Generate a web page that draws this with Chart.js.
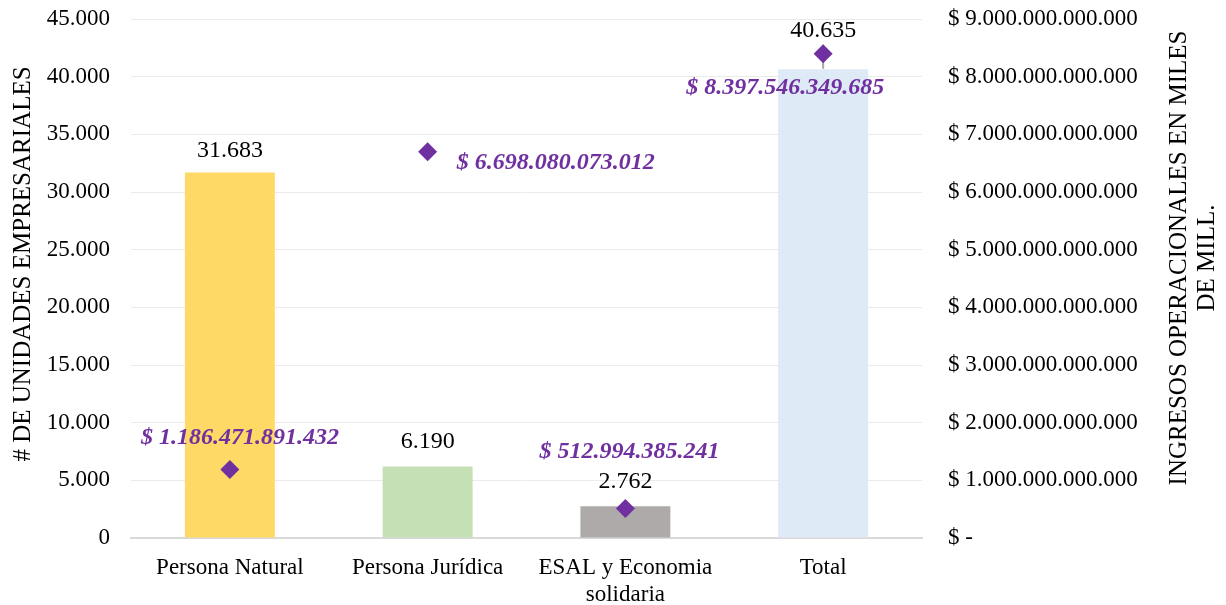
<!DOCTYPE html>
<html>
<head>
<meta charset="utf-8">
<script src="https://cdn.jsdelivr.net/npm/chart.js@4.4.1/dist/chart.umd.min.js"></script>
<style>
  html, body { margin: 0; padding: 0; background: #fff; }
  #wrap { width: 1226px; height: 605px; }
</style>
</head>
<body>
<div id="wrap"><canvas id="myChart" width="1226" height="605"></canvas></div>
<script>
const categories = ["Persona Natural", "Persona Jurídica", ["ESAL y Economia", "solidaria"], "Total"];
const unidades = [31683, 6190, 2762, 40635];
const ingresos = [1186471891432, 6698080073012, 512994385241, 8397546349685];
const leftAxis = { max: 45000, step: 5000 };
const rightAxis = { max: 9000000000000, step: 1000000000000 };
const leftTitle = ["# DE UNIDADES EMPRESARIALES"];
const rightTitle = ["INGRESOS OPERACIONALES EN MILES", "DE MILL."];

const barColors = ["#FFD966", "#C5E0B4", "#AEAAAA", "#DEEAF6"];
const purple = "#7030A0";
const serif = "'Liberation Serif', 'Times New Roman', serif";

// label placement relative to the bar top / diamond
const barLabelLift = [22, 25, 24, 39];
const ingLabelOffset = [
  { dx: 10, dy: -32, align: "center" },
  { dx: 29, dy: 11, align: "left" },
  { dx: 4, dy: -57, align: "center" },
  { dx: -38, dy: 34, align: "center" },
];

function miles(n) {
  return String(Math.round(n)).replace(/\B(?=(\d{3})+(?!\d))/g, ".");
}

// keep the vertical scales from pushing the plot area down
function tightFit(width) {
  return (s) => {
    s.width = width;
    s.paddingTop = 0;
    s.paddingBottom = 0;
  };
}

function drawTitle(ctx, lines, x, y) {
  ctx.save();
  ctx.font = "25px " + serif;
  ctx.fillStyle = "#000";
  ctx.textAlign = "center";
  ctx.textBaseline = "middle";
  ctx.translate(x, y);
  ctx.rotate(-Math.PI / 2);
  lines.forEach((t, i) => ctx.fillText(t, 0, i * 28));
  ctx.restore();
}

const valueLabels = {
  id: "valueLabels",
  beforeDatasetsDraw(chart) {
    // small gray stem behind the Total marker
    const p = chart.getDatasetMeta(1).data[3];
    const ctx = chart.ctx;
    ctx.save();
    ctx.strokeStyle = "#A6A6A6";
    ctx.lineWidth = 2;
    ctx.beginPath();
    ctx.moveTo(p.x, p.y - 9);
    ctx.lineTo(p.x, p.y + 15);
    ctx.stroke();
    ctx.restore();
  },
  afterDatasetsDraw(chart) {
    const ctx = chart.ctx;
    ctx.save();
    ctx.textBaseline = "middle";
    ctx.font = "24px " + serif;
    ctx.fillStyle = "#000";
    ctx.textAlign = "center";
    chart.getDatasetMeta(0).data.forEach((bar, i) => {
      ctx.fillText(miles(unidades[i]), bar.x, bar.y - barLabelLift[i]);
    });
    ctx.font = "italic bold 24px " + serif;
    ctx.fillStyle = purple;
    chart.getDatasetMeta(1).data.forEach((pt, i) => {
      const o = ingLabelOffset[i];
      ctx.textAlign = o.align;
      ctx.fillText("$ " + miles(ingresos[i]), pt.x + o.dx, pt.y + o.dy);
    });
    ctx.restore();
  },
  afterDraw(chart) {
    drawTitle(chart.ctx, leftTitle, 23, 264);
    drawTitle(chart.ctx, rightTitle, 1179, 258);
  },
};

new Chart(document.getElementById("myChart"), {
  type: "bar",
  plugins: [valueLabels],
  data: {
    labels: categories,
    datasets: [
      {
        label: "Unidades",
        data: unidades,
        backgroundColor: barColors,
        yAxisID: "y",
        categoryPercentage: 1,
        barPercentage: 0.455,
        order: 1,
      },
      {
        type: "line",
        label: "Ingresos",
        data: ingresos,
        yAxisID: "y1",
        showLine: false,
        pointStyle: "rectRot",
        pointRadius: 9.5,
        pointBackgroundColor: purple,
        pointBorderColor: purple,
        pointBorderWidth: 0,
        order: 0,
      },
    ],
  },
  options: {
    responsive: false,
    animation: false,
    layout: { padding: { top: 19, left: 0, right: 0, bottom: 0 } },
    plugins: {
      legend: { display: false },
      tooltip: { enabled: false },
    },
    scales: {
      x: {
        grid: { display: false },
        border: { color: "#D9D9D9", width: 2 },
        ticks: {
          color: "#000",
          font: { family: serif, size: 23, lineHeight: 1.15 },
          padding: 9,
          maxRotation: 0,
          autoSkip: false,
        },
        afterFit: (s) => { s.height = 67; },
      },
      y: {
        position: "left",
        min: 0,
        max: leftAxis.max,
        grid: { color: "#EBEBEB", drawTicks: false },
        border: { display: false },
        ticks: {
          stepSize: leftAxis.step,
          color: "#000",
          font: { family: serif, size: 23 },
          padding: 21,
          callback: (v) => miles(v),
        },
        afterFit: tightFit(131),
      },
      y1: {
        position: "right",
        min: 0,
        max: rightAxis.max,
        grid: { display: false, drawTicks: false },
        border: { display: false },
        ticks: {
          stepSize: rightAxis.step,
          color: "#000",
          font: { family: serif, size: 23 },
          padding: 26,
          callback: (v) => (v === 0 ? "$ -" : "$ " + miles(v)),
        },
        afterFit: tightFit(304),
      },
    },
  },
});
</script>
</body>
</html>
